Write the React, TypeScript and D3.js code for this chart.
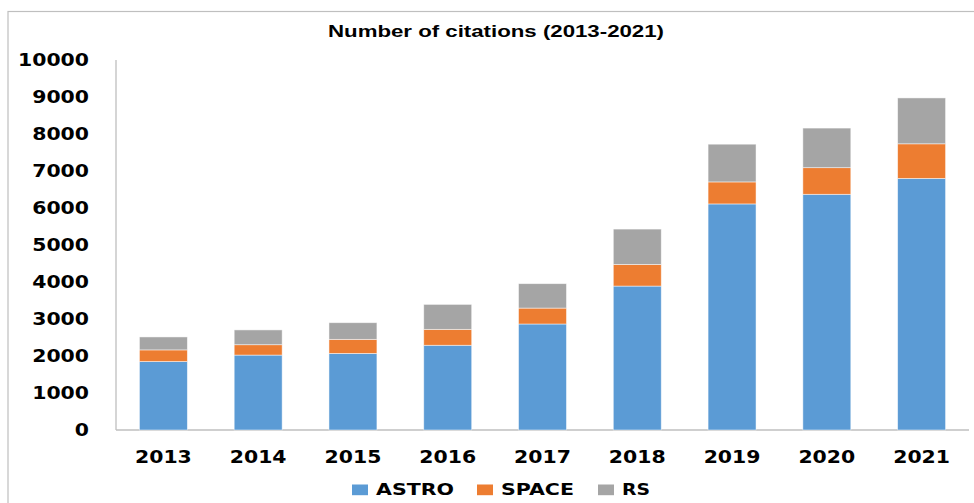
import React from "react";
import * as d3 from "d3";

const years = ["2013", "2014", "2015", "2016", "2017", "2018", "2019", "2020", "2021"];
const astro = [1850, 2025, 2070, 2290, 2865, 3890, 6110, 6370, 6800];
const space = [315, 280, 380, 430, 430, 585, 595, 720, 935];
const rs = [350, 400, 450, 675, 660, 955, 1020, 1070, 1240];
const seriesNames = ["ASTRO", "SPACE", "RS"];
const colors = ["#5B9BD5", "#ED7D31", "#A5A5A5"];
const yTicks = [0, 1000, 2000, 3000, 4000, 5000, 6000, 7000, 8000, 9000, 10000];
const title = "Number of citations (2013-2021)";

const W = 974;
const H = 503;
const left = 116;
const right = 969;
const top = 60;
const bottom = 430;

export default function App() {
  const rows = years.map((y, i) => ({ year: y, ASTRO: astro[i], SPACE: space[i], RS: rs[i] }));
  const stack = d3.stack<any>().keys(seriesNames)(rows);
  const x = d3.scaleBand().domain(years).range([left, right]).paddingInner(0.494).paddingOuter(0.247);
  const y = d3.scaleLinear().domain([0, 10000]).range([bottom, top]);
  const digitW = 14.2;
  const font = "'DejaVu Sans', sans-serif";

  const legendItems = [
    { sx: 352, tx: 376, tw: 78 },
    { sx: 477, tx: 501, tw: 73 },
    { sx: 598, tx: 622, tw: 28 },
  ];

  return (
    <svg width={W} height={H} style={{ position: "absolute", left: 0, top: 0, background: "#fff" }}>
      <rect x={0} y={0} width={W} height={H} fill="#fff" />
      <rect x={8} y={11.5} width={W + 20} height={H + 20} fill="none" stroke="#BFBFBF" strokeWidth={1.2} />
      <text x={(328 + 664) / 2} y={37} textAnchor="middle" fontFamily="'Liberation Sans', Arial, sans-serif" fontWeight="bold" fontSize={16} textLength={336} lengthAdjust="spacingAndGlyphs" fill="#000">
        {title}
      </text>
      {/* axes */}
      <line x1={left} x2={left} y1={top} y2={bottom} stroke="#BFBFBF" strokeWidth={1.3} />
      <line x1={left} x2={right} y1={bottom} y2={bottom} stroke="#BFBFBF" strokeWidth={1.3} />
      {yTicks.map((t) => {
        const s = String(t);
        return (
          <text key={t} x={89} y={y(t) + 6.3} textAnchor="end" fontFamily={font} fontWeight="bold" fontSize={17.4} textLength={s.length * digitW} lengthAdjust="spacingAndGlyphs" fill="#000">
            {s}
          </text>
        );
      })}
      {stack.map((layer, si) => (
        <g key={seriesNames[si]}>
          {layer.map((d, i) => (
            <rect
              key={i}
              x={x(years[i])!}
              width={x.bandwidth()}
              y={y(d[1])}
              height={y(d[0]) - y(d[1])}
              fill={colors[si]}
              stroke="#ffffff"
              strokeOpacity={0.6}
              strokeWidth={0.8}
            />
          ))}
        </g>
      ))}
      {years.map((yr) => (
        <text key={yr} x={x(yr)! + x.bandwidth() / 2} y={462.5} textAnchor="middle" fontFamily={font} fontWeight="bold" fontSize={18.2} textLength={4 * digitW} lengthAdjust="spacingAndGlyphs" fill="#000">
          {yr}
        </text>
      ))}
      {seriesNames.map((n, i) => (
        <g key={n}>
          <rect x={legendItems[i].sx} y={484.5} width={16} height={10.7} fill={colors[i]} />
          <text x={legendItems[i].tx} y={495.3} fontFamily={font} fontWeight="bold" fontSize={16.5} textLength={legendItems[i].tw} lengthAdjust="spacingAndGlyphs" fill="#000">
            {n}
          </text>
        </g>
      ))}
    </svg>
  );
}
